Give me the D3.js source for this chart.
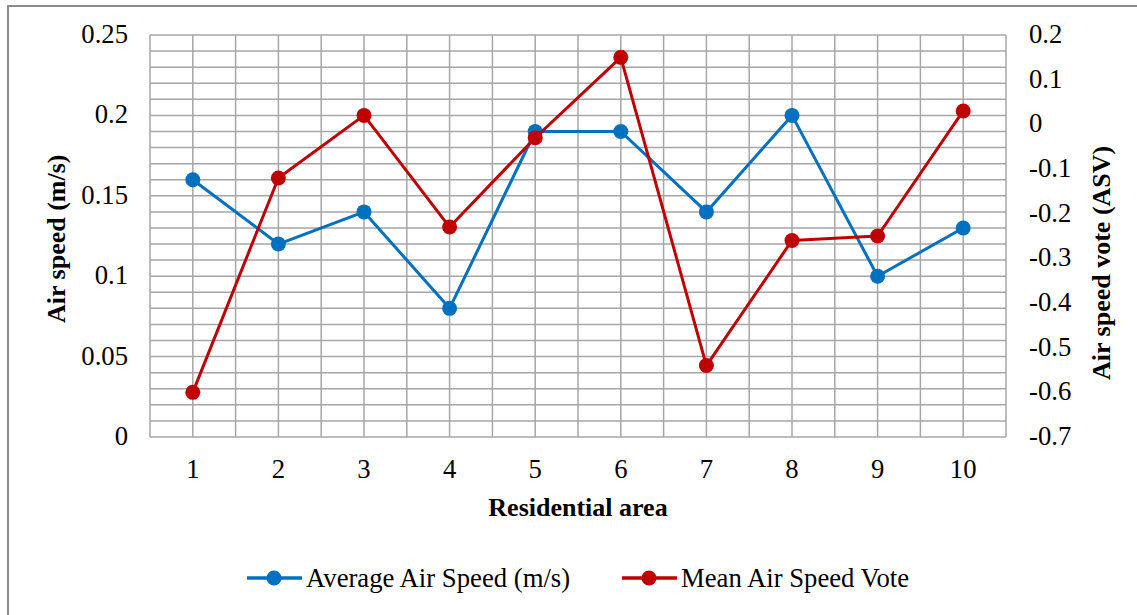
<!DOCTYPE html>
<html>
<head>
<meta charset="utf-8">
<title>Air speed by residential area</title>
<script src="https://cdnjs.cloudflare.com/ajax/libs/d3/7.8.5/d3.min.js"></script>
<style>
body {
  margin: 0;
  background: #fff;
}
text {
  font-family: "Liberation Serif", "Times New Roman", serif;
  fill: #000;
}
.grid line {
  stroke: #a6a6a6;
  stroke-width: 1.5px;
}
.tick-label {
  font-size: 26.7px;
}
.axis-title {
  font-size: 26px;
  font-weight: bold;
}
.legend text {
  font-size: 26.7px;
}
</style>
</head>
<body>
<script>
// values
var areas = [1, 2, 3, 4, 5, 6, 7, 8, 9, 10];
var avgAirSpeed = [0.16, 0.12, 0.14, 0.08, 0.19, 0.19, 0.14, 0.20, 0.10, 0.13];
var meanVote = [-0.60, -0.12, 0.02, -0.23, -0.03, 0.15, -0.54, -0.26, -0.25, 0.03];
var leftTicks = [0, 0.05, 0.1, 0.15, 0.2, 0.25];
var rightTicks = [-0.7, -0.6, -0.5, -0.4, -0.3, -0.2, -0.1, 0, 0.1, 0.2];
var seriesNames = ["Average Air Speed (m/s)", "Mean Air Speed Vote"];
var seriesColors = ["#0070c0", "#c00000"];

var width = 1137, height = 615;
var plot = {left: 150, right: 1006, top: 35, bottom: 437};

// plain hyphen for negatives, like the original
var fmt = d3.formatLocale({decimal: ".", thousands: ",", grouping: [3], currency: ["", ""], minus: "-"}).format("");

var svg = d3.select("body").append("svg")
  .attr("width", width)
  .attr("height", height);

// outer chart frame
svg.append("rect")
  .attr("x", 8).attr("y", 6)
  .attr("width", width + 20).attr("height", height + 20)
  .attr("fill", "#fff")
  .attr("stroke", "#8c8c8c")
  .attr("stroke-width", 2);

var x = d3.scaleLinear()
  .domain([0.5, areas.length + 0.5])
  .range([plot.left, plot.right]);

var yL = d3.scaleLinear().domain([0, 0.25]).range([plot.bottom, plot.top]);
var yR = d3.scaleLinear().domain([-0.7, 0.2]).range([plot.bottom, plot.top]);

// gridlines: every half category, every 0.01 on the left scale
var grid = svg.append("g").attr("class", "grid");
grid.selectAll(".h")
  .data(d3.range(0, 26).map(function(i) { return i * 0.01; }))
  .enter().append("line")
  .attr("x1", plot.left).attr("x2", plot.right)
  .attr("y1", function(d) { return yL(d); })
  .attr("y2", function(d) { return yL(d); });
grid.selectAll(".v")
  .data(d3.range(0, areas.length * 2 + 1).map(function(i) { return 0.5 + i * 0.5; }))
  .enter().append("line")
  .attr("y1", plot.top).attr("y2", plot.bottom)
  .attr("x1", function(d) { return x(d); })
  .attr("x2", function(d) { return x(d); });

// tick labels
svg.append("g").selectAll("text")
  .data(leftTicks)
  .enter().append("text")
  .attr("class", "tick-label")
  .attr("x", 128)
  .attr("y", function(d) { return yL(d) + 8; })
  .attr("text-anchor", "end")
  .text(function(d) { return fmt(d); });

svg.append("g").selectAll("text")
  .data(rightTicks)
  .enter().append("text")
  .attr("class", "tick-label")
  .attr("x", 1029)
  .attr("y", function(d) { return yR(d) + 8; })
  .attr("text-anchor", "start")
  .text(function(d) { return fmt(+d.toFixed(1)); });

svg.append("g").selectAll("text")
  .data(areas)
  .enter().append("text")
  .attr("class", "tick-label")
  .attr("x", function(d) { return x(d); })
  .attr("y", 478)
  .attr("text-anchor", "middle")
  .text(function(d) { return d; });

// axis titles
svg.append("text")
  .attr("class", "axis-title")
  .attr("x", (plot.left + plot.right) / 2)
  .attr("y", 516)
  .attr("text-anchor", "middle")
  .text("Residential area");

svg.append("text")
  .attr("class", "axis-title")
  .attr("transform", "translate(65,323) rotate(-90)")
  .attr("text-anchor", "start")
  .text("Air speed (m/s)");

svg.append("text")
  .attr("class", "axis-title")
  .attr("transform", "translate(1110,380) rotate(-90)")
  .attr("text-anchor", "start")
  .text("Air speed vote (ASV)");

// series
function drawSeries(values, yScale, color) {
  var line = d3.line()
    .x(function(d, i) { return x(areas[i]); })
    .y(function(d) { return yScale(d); });
  var g = svg.append("g");
  g.append("path")
    .datum(values)
    .attr("d", line)
    .attr("fill", "none")
    .attr("stroke", color)
    .attr("stroke-width", 3)
    .attr("stroke-linejoin", "round");
  g.selectAll("circle")
    .data(values)
    .enter().append("circle")
    .attr("cx", function(d, i) { return x(areas[i]); })
    .attr("cy", function(d) { return yScale(d); })
    .attr("r", 7.5)
    .attr("fill", color);
}
drawSeries(avgAirSpeed, yL, seriesColors[0]);
drawSeries(meanVote, yR, seriesColors[1]);

// legend
var legendX = [247, 622];
var legend = svg.append("g").attr("class", "legend");
seriesNames.forEach(function(name, i) {
  var g = legend.append("g").attr("transform", "translate(" + legendX[i] + ",578)");
  g.append("line")
    .attr("x1", 0).attr("x2", 55)
    .attr("stroke", seriesColors[i])
    .attr("stroke-width", 3.5);
  g.append("circle")
    .attr("cx", 27).attr("r", 7.5)
    .attr("fill", seriesColors[i]);
  g.append("text")
    .attr("x", 59)
    .attr("y", 9)
    .text(name);
});
</script>
</body>
</html>
